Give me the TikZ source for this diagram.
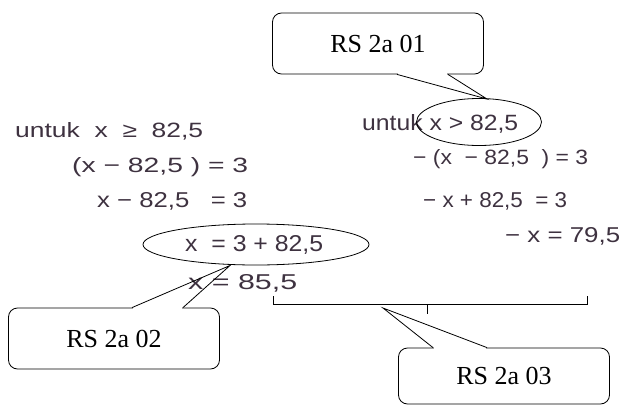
\documentclass[tikz,border=0pt]{standalone}
\usepackage{fontspec}
\usepackage{graphicx}
\setmainfont{Liberation Serif}
\newfontfamily\handfont{Liberation Sans}
\usetikzlibrary{shapes.geometric,calc}
\definecolor{ink}{RGB}{62,50,64}
\newcommand{\hwtext}[3]{\resizebox{#1}{#2}{\handfont #3}}
\begin{document}
\begin{tikzpicture}[x=1pt,y=-1pt,
  callbox/.style={draw, line width=0.8pt, rounded corners=9pt, minimum width=211pt,
    minimum height=61pt, inner sep=0pt, font=\fontsize{26}{30}\selectfont},
  hw/.style={anchor=base west, inner sep=0pt, text=ink},
  ring/.style={draw, ellipse, line width=0.8pt, inner sep=0pt},
  pointer/.style={line width=0.8pt, line join=miter},
  brace/.style={line width=0.8pt}]
\useasboundingbox (0,0) rectangle (625,407);

% handwritten lines, left column
\node[hw] (l1) at (15,137.5)  {\hwtext{188pt}{15pt}{untuk\ \ x\ \ ≥\ \ 82,5}};
\node[hw] (l2) at (72,172.5)  {\hwtext{176pt}{15pt}{(x\ −\ 82,5\ )\ =\ 3}};
\node[hw] (l3) at (97,207.5)  {\hwtext{150pt}{15pt}{x\ −\ 82,5\ \ \ =\ 3}};
\node[hw] (l4) at (185,251)   {\hwtext{138pt}{16pt}{x\ \ =\ 3\ +\ 82,5}};
\node[hw] (l5) at (188,289.5) {\hwtext{109pt}{15pt}{x\ =\ 85,5}};

% handwritten lines, right column
\node[hw] (r1) at (362,130)   {\hwtext{156pt}{16pt}{untuk\ x\ >\ 82,5}};
\node[hw] (r2) at (413,164.5) {\hwtext{175pt}{15pt}{−\ (x\ \ −\ 82,5\ \ )\ =\ 3}};
\node[hw] (r3) at (423,207.5) {\hwtext{144pt}{15pt}{−\ x\ +\ 82,5\ \ =\ 3}};
\node[hw] (r4) at (505,242.5) {\hwtext{115pt}{15pt}{−\ x\ =\ 79,5}};

% rings
\node[ring, minimum width=125pt, minimum height=47pt] (e1) at (479,122) {};
\node[ring, minimum width=226pt, minimum height=41pt] (e2) at (256,244.5) {};

% bracket
\coordinate (bl) at (273,296);
\coordinate (br) at (587,296);
\coordinate (bm) at (427,304);
\draw[brace] (bl) -- (273,304) -- (587,304) -- (br);
\draw[brace] (bm) -- (427,314);

% callout 1
\node[callbox] (c1) at (378,43.5) {RS 2a 01};
\coordinate (t1) at (487,99);
\coordinate (c1a) at ($(c1.south)+(19,0)$);
\coordinate (c1b) at ($(c1.south)+(70,0)$);
\fill[white] ($(c1a)+(0.6,-1.2)$) rectangle ($(c1b)+(-0.6,1.2)$);
\draw[pointer] (c1a) -- (t1) -- (c1b);

% callout 2
\node[callbox] (c2) at (114,338.5) {RS 2a 02};
\coordinate (t2) at (230,265.5);
\coordinate (c2a) at ($(c2.north)+(18,0)$);
\coordinate (c2b) at ($(c2.north)+(69,0)$);
\fill[white] ($(c2a)+(0.6,-1.2)$) rectangle ($(c2b)+(-0.6,1.2)$);
\draw[pointer] (c2a) -- (t2) -- (c2b);

% callout 3
\node[callbox, minimum height=56pt] (c3) at (504,376) {RS 2a 03};
\coordinate (t3) at (383,308);
\coordinate (c3a) at ($(c3.north)+(-71,0)$);
\coordinate (c3b) at ($(c3.north)+(-17,0)$);
\fill[white] ($(c3a)+(0.6,-1.2)$) rectangle ($(c3b)+(-0.6,1.2)$);
\draw[pointer] (c3a) -- (t3) -- (c3b);
\end{tikzpicture}
\end{document}
